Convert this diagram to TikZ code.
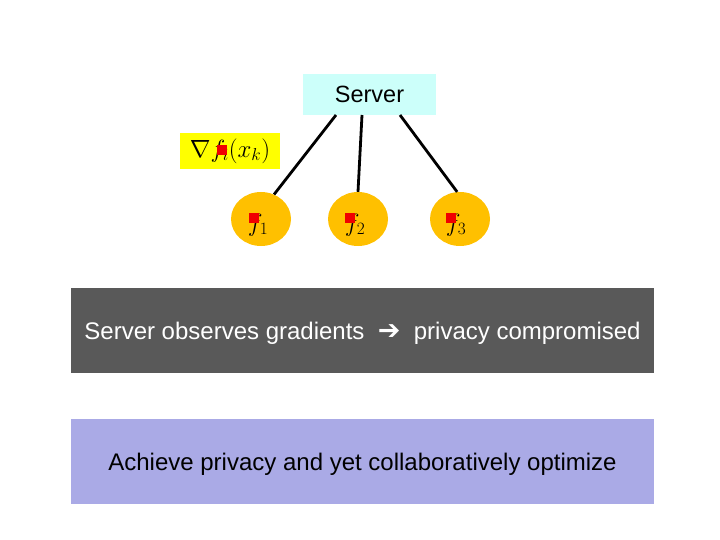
\documentclass[tikz,border=0pt]{standalone}
\usepackage{fontspec}
\setmainfont{Liberation Sans}
\newfontfamily\symfont{DejaVu Sans}
\definecolor{servercol}{RGB}{204,255,250}
\definecolor{nodecol}{RGB}{255,192,0}
\definecolor{darkbox}{RGB}{89,89,89}
\definecolor{lightbox}{RGB}{170,170,230}
\definecolor{gradcol}{RGB}{255,255,0}
\definecolor{redsq}{RGB}{240,0,0}
\usetikzlibrary{shapes.geometric}
\tikzset{
  agent/.style={ellipse, fill=nodecol, minimum width=60pt, minimum height=54pt, inner sep=0pt},
  banner/.style={rectangle, minimum width=583pt, minimum height=85pt, inner sep=0pt, text height=20pt, text depth=2pt, font=\fontsize{24}{28}\selectfont},
  link/.style={line width=2.8pt, black},
  redmark/.style={fill=redsq, minimum size=10pt, inner sep=0pt, rectangle},
  ftext/.style={font=\fontsize{26}{30}\selectfont},
}
\begin{document}
\begin{tikzpicture}[x=1pt,y=-1pt]
\useasboundingbox (0,0) rectangle (720,540);
\node[fill=servercol, minimum width=133pt, minimum height=41pt, inner sep=0pt, font=\fontsize{23.5}{27}\selectfont] (server) at (369.5,94.5) {Server};
\node[fill=gradcol, minimum width=100pt, minimum height=36pt, inner sep=0pt, ftext] (grad) at (230,151) {$\nabla f_i(x_k)$};
\node[agent] (a1) at (261,219) {};
\node[agent] (a2) at (358,219) {};
\node[agent] (a3) at (460,219) {};
\node[ftext] (t1) at (258,225) {$f_1$};
\node[ftext] (t2) at (355,225) {$f_2$};
\node[ftext] (t3) at (456,225) {$f_3$};
\node[redmark] (r0) at (222,150) {};
\node[redmark] (r1) at (254,218) {};
\node[redmark] (r2) at (350,218) {};
\node[redmark] (r3) at (451,218) {};
\coordinate (s1) at (336,115);
\coordinate (s2) at (362,115);
\coordinate (s3) at (400,115);
\draw[link] (s1) -- (a1.62);
\draw[link] (s2) -- (a2.north);
\draw[link] (s3) -- (a3.96);
\node[banner, fill=darkbox, text=white] (obs) at (362.5,330.5) {Server observes gradients \ {\symfont\bfseries\fontsize{27}{28}\selectfont ➔} \ privacy compromised};
\node[banner, fill=lightbox, text=black] (goal) at (362.5,461.5) {Achieve privacy and yet collaboratively optimize};
\end{tikzpicture}
\end{document}
